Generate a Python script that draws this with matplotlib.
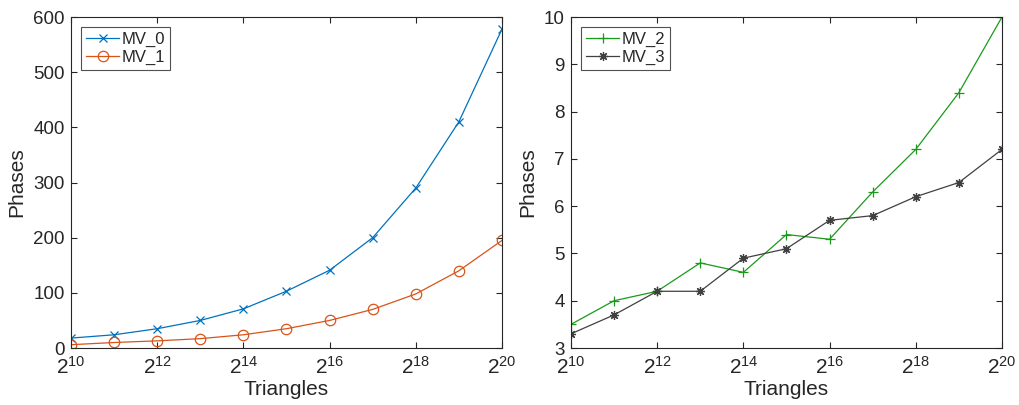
import matplotlib
matplotlib.use("Agg")
import matplotlib.pyplot as plt
import numpy as np
from matplotlib.ticker import FixedLocator, FuncFormatter, NullLocator

exponents = [10, 11, 12, 13, 14, 15, 16, 17, 18, 19, 20]
mv0 = [18, 24, 35, 50, 71, 103, 141, 200, 290, 410, 578]
mv1 = [6, 10, 13, 17, 24, 35, 50, 70, 98, 140, 195]
mv2 = [3.5, 4.0, 4.2, 4.8, 4.6, 5.4, 5.3, 6.3, 7.2, 8.4, 10.0]
mv3 = [3.3, 3.7, 4.2, 4.2, 4.9, 5.1, 5.7, 5.8, 6.2, 6.5, 7.2]

plt.rcParams.update({
    "font.family": ["Liberation Sans", "DejaVu Sans"],
    "mathtext.default": "regular",
    "font.size": 12,
    "axes.linewidth": 0.8,
    "axes.edgecolor": "#262626",
    "xtick.direction": "in",
    "ytick.direction": "in",
    "xtick.top": True,
    "ytick.right": True,
    "xtick.color": "#262626",
    "ytick.color": "#262626",
    "text.color": "#262626",
    "axes.labelcolor": "#262626",
})

blue = "#0072BD"
orange = "#D95319"
green = "#1A9A1A"
gray = "#404040"

x = np.power(2.0, exponents)

fig = plt.figure(figsize=(10.19, 4.05), dpi=100)
ax1 = fig.add_axes([0.0697, 0.1407, 0.4229, 0.8173])
ax2 = fig.add_axes([0.5603, 0.1407, 0.4230, 0.8173])

ax1.plot(x, mv0, "-x", color=blue, lw=0.9, ms=5.5, mew=0.9, label="MV_0")
ax1.plot(x, mv1, "-o", color=orange, lw=0.9, ms=7.5, mew=0.9, mfc="none", label="MV_1")
ax1.set_ylim(0, 600)
ax1.set_yticks([0, 100, 200, 300, 400, 500, 600])

ax2.plot(x, mv2, "-+", color=green, lw=0.9, ms=7.5, mew=0.9, label="MV_2")
ax2.plot(x, mv3, "-", color=gray, lw=0.9, marker=(8, 2, 0), ms=6.5, mew=0.9, label="MV_3")
ax2.set_ylim(3, 10)
ax2.set_yticks(range(3, 11))

for ax in (ax1, ax2):
    ax.set_xscale("log", base=2)
    ax.set_xlim(2 ** 10, 2 ** 20)
    ax.xaxis.set_major_locator(FixedLocator([2.0 ** e for e in range(10, 21, 2)]))
    ax.xaxis.set_minor_locator(NullLocator())
    ax.xaxis.set_major_formatter(FuncFormatter(lambda v, p: "$2^{%d}$" % round(np.log2(v))))
    ax.tick_params(labelsize=13.5, length=4, width=0.8, pad=4.5)
    ax.tick_params(axis="x", labelsize=15, pad=6)
    ax.set_xlabel("Triangles", fontsize=15, labelpad=1)
    ax.set_ylabel("Phases", fontsize=15, labelpad=5)
    leg = ax.legend(loc="upper left", fontsize=12, handlelength=2.0, handletextpad=0.15,
                    borderpad=0.3, labelspacing=0.15, fancybox=False, edgecolor="#262626",
                    borderaxespad=0.6)
    leg.get_frame().set_linewidth(0.8)

fig.savefig("out.png", dpi=100)
